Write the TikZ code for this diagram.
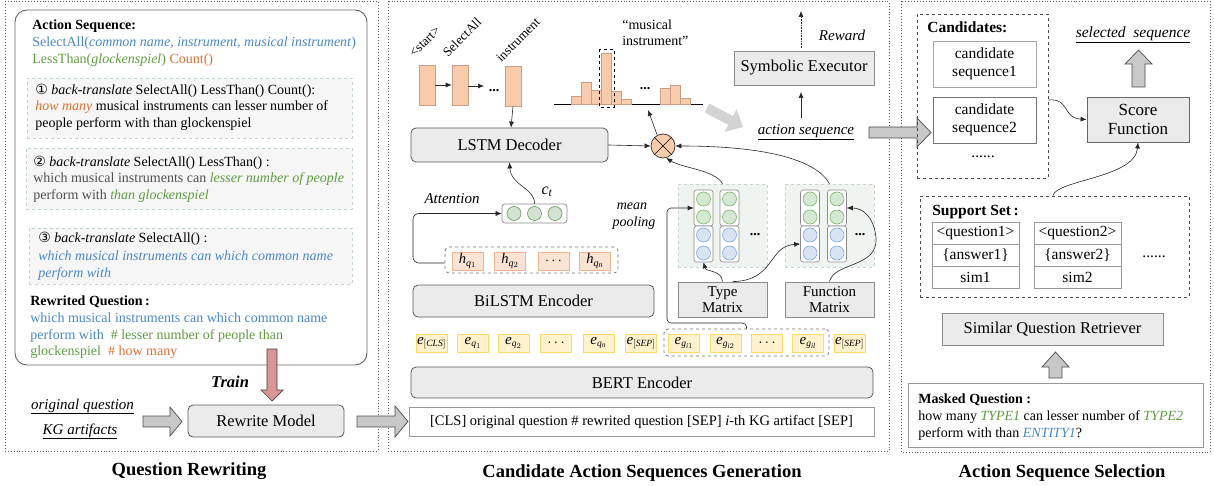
\RequirePackage{fix-cm}
\documentclass[tikz,border=0pt]{standalone}
\usepackage{fontspec}
\setmainfont{Liberation Serif}
\newfontfamily\circfont{DejaVu Sans}
\usetikzlibrary{arrows.meta}
\DeclareMathSizes{15}{15}{9.5}{7.5}
\DeclareMathSizes{14.5}{14.5}{10}{8}
\DeclareMathSizes{16}{16}{11.5}{9}
\definecolor{cblue}{HTML}{4A86C8}
\definecolor{cgreen}{HTML}{5E9C3F}
\definecolor{corange}{HTML}{E0702F}
\definecolor{boxgray}{HTML}{EBEBEB}
\definecolor{tokfill}{HTML}{F8CBAD}
\definecolor{tokedge}{HTML}{C9A087}
\definecolor{hfill}{HTML}{FBE3D4}
\definecolor{hedge}{HTML}{F2B48E}
\definecolor{efill}{HTML}{FFF2CC}
\definecolor{eedge}{HTML}{FFD966}
\definecolor{gfill}{HTML}{D5E8D4}
\definecolor{gedge}{HTML}{82B366}
\definecolor{bfill}{HTML}{DAE3F3}
\definecolor{bedge}{HTML}{7EA6E0}
\definecolor{ctfill}{HTML}{D3E2D3}
\definecolor{ctedge}{HTML}{6A9A5A}
\definecolor{matbg}{HTML}{EFF4F1}
\definecolor{matedge}{HTML}{C9D6CF}
\definecolor{dashbg}{HTML}{F6F6F6}
\definecolor{dashedge}{HTML}{C3D6CC}
\definecolor{trainfill}{HTML}{D99694}
\definecolor{blockgray}{HTML}{C8C8C8}
\definecolor{lightarrow}{HTML}{D3D3D3}
\definecolor{textgray}{HTML}{505050}
\newcommand\szL{\fontsize{14}{16}\selectfont}
\newcommand\szB{\fontsize{16.5}{19}\selectfont}
\newcommand\szT{\fontsize{18.5}{21}\selectfont}
\newcommand\szM{\fontsize{15}{17}\selectfont}
\newcommand\szC{\fontsize{15.5}{18}\selectfont}
\newcommand\szS{\fontsize{13}{15}\selectfont}
\newcommand\szH{\fontsize{14.5}{16}\selectfont}
\newcommand\szE{\fontsize{15}{16}\selectfont}
\begin{document}
\begin{tikzpicture}[x=1pt,y=-1pt,line width=0.6pt,
  panel/.style={draw=black!65,line width=0.9pt,dotted},
  gbox/.style={draw=black!65,fill=boxgray,rounded corners=5pt,line width=0.8pt,inner sep=0pt,font=\szB},
  sbox/.style={draw=black!45,fill=boxgray,line width=0.8pt,inner sep=0pt},
  wbox/.style={draw=black!35,fill=white,line width=0.8pt,inner sep=0pt},
  ln/.style={inner sep=0pt,anchor=base west,font=\szL},
  lc/.style={inner sep=0pt,anchor=base},
  arr/.style={-{Latex[length=6pt,width=5pt]},line width=0.6pt,draw=black!85},
  dbox/.style={draw=dashedge,fill=dashbg,dashed,line width=0.8pt,inner sep=0pt},
  tok/.style={draw=tokedge,fill=tokfill,line width=0.6pt,inner sep=0pt,minimum width=16pt,minimum height=40pt},
  hq/.style={draw=hedge,fill=hfill,line width=0.7pt,inner sep=0pt,minimum width=31pt,minimum height=18pt,font=\szH},
  emb/.style={draw=eedge,fill=efill,line width=0.7pt,inner sep=0pt,minimum width=31pt,minimum height=18pt,font=\szE},
  colr/.style={draw=black!45,fill=white,rounded corners=2.5pt,line width=0.6pt,minimum width=19pt,minimum height=36pt,inner sep=0pt},
  gc/.style={circle,draw=gedge,fill=gfill,line width=0.6pt,minimum size=14pt,inner sep=0pt},
  bc/.style={circle,draw=bedge,fill=bfill,line width=0.6pt,minimum size=14pt,inner sep=0pt},
  cc/.style={circle,draw=ctedge,fill=ctfill,line width=0.6pt,minimum size=14pt,inner sep=0pt},
  bar/.style={draw=tokedge,fill=tokfill,line width=0.5pt},
  blk/.style={draw=black!70,fill=blockgray,line width=0.7pt},
  cell/.style={draw=black!40,fill=white,line width=0.7pt,minimum width=87pt,minimum height=22pt,inner sep=0pt,font=\szC},
]
\useasboundingbox (0,0) rectangle (1214,486);

% ---------- panels ----------
\draw[panel] (5,1.5) rectangle (378,451);
\draw[panel] (388,1.5) rectangle (889,451);
\draw[panel] (901,1.5) rectangle (1210,452);
\node[lc,font=\szT\bfseries] (title1) at (189,475) {Question Rewriting};
\node[lc,font=\szT\bfseries] (title2) at (642,477) {Candidate Action Sequences Generation};
\node[lc,font=\szT\bfseries] (title3) at (1062,477) {Action Sequence Selection};

% ---------- left panel ----------
\node[draw=black!60,line width=0.9pt,rounded corners=12pt,minimum width=352pt,minimum height=355pt,inner sep=0pt] (lbox) at (191,187.5) {};
\node[dbox,minimum width=325pt,minimum height=60pt] (bt1) at (189.5,108) {};
\node[dbox,minimum width=326pt,minimum height=61pt] (bt2) at (189,178.5) {};
\node[dbox,minimum width=323pt,minimum height=56pt] (bt3) at (190.5,256) {};

\node[ln,font=\szL\bfseries] (asT) at (32,30) {Action Sequence:};
\node[ln,text=cblue] (as1) at (32,47) {SelectAll(\textit{common name}, \textit{instrument}, \textit{musical instrument})};
\node[ln] (as2) at (32,64) {\textcolor{cgreen}{LessThan(\textit{glockenspiel})} \textcolor{corange}{Count()}};

\node[ln] (b1a) at (35,95) {{\circfont ①} \textit{back-translate} SelectAll() LessThan() Count():};
\node[ln] (b1b) at (35,111) {\textcolor{corange}{\textit{how many}} musical instruments can lesser number of};
\node[ln] (b1c) at (35,128) {people perform with than glockenspiel};

\node[ln] (b2a) at (33,167) {{\circfont ②} \textit{back-translate} SelectAll() LessThan() :};
\node[ln,text=textgray] (b2b) at (33,183) {which musical instruments can \textcolor{cgreen}{\textit{lesser number of people}}};
\node[ln,text=textgray] (b2c) at (33,200) {perform with \textcolor{cgreen}{\textit{than glockenspiel}}};

\node[ln] (b3a) at (38,243) {{\circfont ③} \textit{back-translate} SelectAll() :};
\node[ln,text=cblue] (b3b) at (38,260) {\textit{which musical instruments can which common name}};
\node[ln,text=cblue] (b3c) at (38,277) {\textit{perform with}};

\node[ln,font=\szL\bfseries] (rqT) at (30,305) {Rewrited Question\,:};
\node[ln,text=cblue] (rq1) at (30,322) {which musical instruments can which common name};
\node[ln] (rq2) at (30,339) {\textcolor{cblue}{perform with}~ \textcolor{cgreen}{\# lesser number of people than}};
\node[ln] (rq3) at (30,355) {\textcolor{cgreen}{glockenspiel}~ \textcolor{corange}{\# how many}};

\draw[draw=black!75,fill=trainfill,line width=0.7pt] (267,349) -- (277,349) -- (277,390) -- (283,390) -- (272,401) -- (261,390) -- (267,390) -- cycle;
\node[lc,font=\szB\bfseries\itshape] (train) at (230,387) {Train};

\node[lc,font=\szM] (oq) at (82.5,409) {\underline{\textit{original question}}};
\node[lc,font=\szM] (kga) at (80,434) {\underline{\textit{KG artifacts}}};
\draw[blk] (143,416) -- (170,416) -- (170,407) -- (182,421.5) -- (170,436) -- (170,427) -- (143,427) -- cycle;
\node[gbox,minimum width=156pt,minimum height=32pt] (rw) at (266,421) {Rewrite Model};
\draw[blk] (357,416) -- (395,416) -- (395,406) -- (408,421.5) -- (395,437) -- (395,427) -- (357,427) -- cycle;

% ---------- middle panel: decoder ----------
\node[tok] (tok1) at (427,85) {};
\node[tok] (tok2) at (460,85) {};
\node[tok] (tok3) at (513,86) {};
\node[font=\szS,rotate=45,inner sep=0pt] (lab1) at (425,42) {<start>};
\node[font=\szS,rotate=45,inner sep=0pt] (lab2) at (462,37) {SelectAll};
\node[font=\szS,rotate=45,inner sep=0pt] (lab3) at (518,40) {instrument};
\draw[arr] (tok1.east) -- (tok2.west);
\coordinate (tokd) at (484,86);
\draw[arr] (tok2.east |- tokd) -- (tokd);
\node[lc,font=\szL\bfseries] (tdots) at (494,92) {...};

\node[gbox,minimum width=197pt,minimum height=34pt] (lstm) at (509.5,145) {LSTM Decoder};
\draw[arr] (tok3.south) -- ([xshift=1.5pt]lstm.north);

\draw[line width=0.9pt] (554,104) -- (703,104);
\foreach \xa/\tp in {571/96,581/82,591/90,601/53,611/91,621/99,660/88,670/85,680/98}
  \draw[bar] (\xa,104) rectangle (\xa+10,\tp);
\draw[dashed,line width=0.7pt] (599,49) rectangle (614,107);
\node[lc,font=\szL\bfseries] (hdots) at (645,90) {...};
\node[ln] (mi1) at (622,30) {“musical};
\node[ln] (mi2) at (622,46) {instrument”};

\node[circle,draw=black!80,fill=tokfill,minimum size=24pt,inner sep=0pt,line width=0.7pt] (ot) at (663,146) {};
\draw[line width=0.6pt] (ot.45) -- (ot.225) (ot.135) -- (ot.315);
\draw[arr] (lstm.east) -- (ot.west);
\coordinate (hpt) at (648,110);
\draw[arr] (ot.118) -- (hpt);

\draw[line width=10pt,draw=lightarrow,-{Triangle[length=14pt,width=25pt]}] (707,108) -- (743,127);

\node[sbox,minimum width=140pt,minimum height=34pt,font=\szB] (se) at (804,68) {Symbolic Executor};
\coordinate (rwb) at (801,48);
\coordinate (rwt) at (801,11);
\draw[arr,densely dotted] (rwb) -- (rwt);
\node[lc,font=\szM\itshape] (reward) at (842,41) {Reward};
\node[lc,font=\szM] (actseq) at (806,135) {\underline{\textit{action sequence}}};
\coordinate (asb) at (801,118);
\coordinate (ast) at (801,92);
\draw[arr] (asb) -- (ast);
\draw[blk] (869,127) -- (917,127) -- (917,118) -- (931,132.5) -- (917,147) -- (917,138) -- (869,138) -- cycle;

% ---------- attention / encoder ----------
\node[draw=black!45,fill=white,rounded corners=3pt,minimum width=65pt,minimum height=19pt,inner sep=0pt,line width=0.7pt] (ctbox) at (534.5,213.5) {};
\node[cc] (c1) at (514,213.5) {};
\node[cc] (c2) at (534.5,213.5) {};
\node[cc] (c3) at (555,213.5) {};
\node[inner sep=0pt,font=\fontsize{16}{18}\selectfont] (ctl) at (547,192) {$\mathit{c}_{\mathit{t}}$};
\draw[arr] (ctbox.north) .. controls (535,188) and (511,186) .. (lstm.south);
\node[lc,font=\szM\itshape] (attn) at (452,204) {Attention};

\node[draw=black!55,dashed,rounded corners=4pt,minimum width=173pt,minimum height=26pt,inner sep=0pt,line width=0.7pt] (hbox) at (531.5,260) {};
\node[hq] (h1) at (467.5,261) {$\mathit{h}_{\mathit{q}_{1}}$};
\node[hq] (h2) at (510,261) {$\mathit{h}_{\mathit{q}_{2}}$};
\node[hq] (h3) at (553.5,261) {$\cdots$};
\node[hq] (h4) at (595,261) {$\mathit{h}_{\mathit{q}_{\mathit{n}}}$};
\coordinate (att1) at (413,263);
\coordinate (att2) at (413,213.5);
\draw[arr,rounded corners=6pt] ([yshift=-3pt]hbox.west) -- (att1) -- (att2) -- (ctbox.west);

\node[gbox,minimum width=241pt,minimum height=32pt] (bilstm) at (533.5,301) {BiLSTM Encoder};

\node[lc,font=\szL\itshape] (mp1) at (632,210) {mean};
\node[lc,font=\szL\itshape] (mp2) at (634,227) {pooling};

% ---------- type / function matrices ----------
\node[draw=matedge,fill=matbg,dashed,minimum width=89pt,minimum height=83pt,inner sep=0pt,line width=0.6pt] (typebg) at (722.5,225.5) {};
\node[draw=matedge,fill=matbg,dashed,minimum width=89pt,minimum height=83pt,inner sep=0pt,line width=0.6pt] (funcbg) at (829.5,225.5) {};
\foreach \cx/\nm in {703.5/tA,729.5/tB,810/fA,837/fB} {
  \node[colr] (\nm1) at (\cx,208) {};
  \node[colr] (\nm2) at (\cx,244) {};
  \node[gc] (\nm-g1) at (\cx,199) {};
  \node[gc] (\nm-g2) at (\cx,217) {};
  \node[bc] (\nm-b1) at (\cx,235) {};
  \node[bc] (\nm-b2) at (\cx,253) {};
}
\node[lc,font=\szL\bfseries] (tdots2) at (755,236) {...};
\node[lc,font=\szL\bfseries] (fdots2) at (860,236) {...};

\node[sbox,minimum width=89pt,minimum height=35pt,align=center,font=\fontsize{15}{16.5}\selectfont] (tm) at (722.5,299.5) {Type\\Matrix};
\node[sbox,minimum width=89pt,minimum height=35pt,align=center,font=\fontsize{15}{16.5}\selectfont] (fm) at (829.5,299.5) {Function\\Matrix};

\draw[arr] (typebg.north) .. controls (715,170) and (682,168) .. (ot.-75);
\draw[arr] (funcbg.north) .. controls (815,158) and (760,146) .. (ot.east);
\draw[arr] (tm.north) .. controls (722,270) and (706,272) .. (tA2.south);
\draw[arr] ([xshift=10pt]tm.north) .. controls (775,281) and (768,246) .. (fA2.west);
\draw[arr] (fm.north) .. controls (834,262) and (878,268) .. (876,238) .. controls (874,216) and (862,208) .. (fB1.east);

% ---------- embeddings ----------
\node[draw=black!55,dashed,rounded corners=4pt,minimum width=165pt,minimum height=27pt,inner sep=0pt,line width=0.7pt] (egibox) at (746.5,342.5) {};
\node[emb] (e1) at (431.5,343) {$\mathit{e}_{[\mathit{CLS}]}$};
\node[emb] (e2) at (473,343) {$\mathit{e}_{\mathit{q}_{1}}$};
\node[emb] (e3) at (513.5,343) {$\mathit{e}_{\mathit{q}_{2}}$};
\node[emb] (e4) at (556,343) {$\cdots$};
\node[emb] (e5) at (598.5,343) {$\mathit{e}_{\mathit{q}_{\mathit{n}}}$};
\node[emb] (e6) at (641,343) {$\mathit{e}_{[\mathit{SEP}]}$};
\node[emb] (e7) at (684,343) {$\mathit{e}_{\mathit{g}_{\mathit{i}1}}$};
\node[emb] (e8) at (725.5,343) {$\mathit{e}_{\mathit{g}_{\mathit{i}2}}$};
\node[emb] (e9) at (767,343) {$\cdots$};
\node[emb] (e10) at (808,343) {$\mathit{e}_{\mathit{g}_{\mathit{il}}}$};
\node[emb] (e11) at (849.5,343) {$\mathit{e}_{[\mathit{SEP}]}$};
\coordinate (mpa) at (746.5,323);
\coordinate (mpb) at (667,323);
\coordinate (mpc) at (667,208);
\draw[arr,rounded corners=4pt] (egibox.north) -- (mpa) -- (mpb) -- (mpc) -- (tA1.west);

\node[gbox,minimum width=462pt,minimum height=31pt] (bert) at (642,382.5) {BERT Encoder};
\node[wbox,draw=black!40,minimum width=465pt,minimum height=29pt,font=\fontsize{14.5}{16}\selectfont] (inp) at (641.5,421.5) {[CLS] original question \# rewrited question [SEP] \textit{i}-th KG artifact [SEP]};

% ---------- right panel ----------
\node[draw=black!70,dashed,minimum width=131pt,minimum height=164pt,inner sep=0pt,line width=0.8pt] (cands) at (982.5,96) {};
\node[ln,font=\szC\bfseries] (candT) at (927,33) {Candidates:};
\node[wbox,minimum width=103pt,minimum height=46pt,align=center,font=\szC] (cand1) at (984.5,64) {candidate\\sequence1};
\node[wbox,draw=black!55,minimum width=103pt,minimum height=46pt,align=center,font=\szC] (cand2) at (984.5,120) {candidate\\sequence2};
\node[lc,font=\szC] (cdots) at (983,158) {......};

\node[sbox,draw=black!60,minimum width=102pt,minimum height=45pt,align=center,font=\fontsize{17}{18.5}\selectfont] (score) at (1138,119.5) {Score\\Function};
\node[lc,font=\szC] (selseq) at (1133,38) {\underline{\textit{selected~ sequence}}};
\draw[blk] (1132,87) -- (1132,64) -- (1125,64) -- (1138.5,50) -- (1152,64) -- (1145,64) -- (1145,87) -- cycle;
\draw[arr] ([yshift=-4pt]cands.east) .. controls (1070,98) and (1062,118) .. (score.west);

\node[draw=black!70,dashed,minimum width=269pt,minimum height=101pt,inner sep=0pt,line width=0.8pt] (sup) at (1054.5,246.5) {};
\node[ln,font=\szC\bfseries] (supT) at (932,215) {Support Set\,:};
\draw[arr] ([xshift=-1.5pt]sup.north) .. controls (1056,180) and (1135,178) .. (score.south);
\node[cell] (q1) at (975.5,233) {<question1>};
\node[cell] (a1) at (975.5,255) {\{answer1\}};
\node[cell] (s1) at (975.5,277) {sim1};
\node[cell] (q2) at (1077.5,233) {<question2>};
\node[cell] (a2) at (1077.5,255) {\{answer2\}};
\node[cell] (s2) at (1077.5,277) {sim2};
\node[lc,font=\szC] (sdots) at (1154,258) {......};

\node[sbox,minimum width=221pt,minimum height=32pt,font=\szB] (retr) at (1052.5,329) {Similar Question Retriever};
\draw[blk] (1049,378) -- (1049,367) -- (1042,367) -- (1055.5,352) -- (1069,367) -- (1062,367) -- (1062,378) -- cycle;

\node[wbox,draw=black!40,minimum width=295pt,minimum height=64pt] (mq) at (1055.5,415) {};
\node[ln,font=\szL\bfseries] (mqT) at (918,403) {Masked Question :};
\node[ln] (mq1) at (918,420) {how many \textcolor{cgreen}{\textit{TYPE1}} can lesser number of \textcolor{cgreen}{\textit{TYPE2}}};
\node[ln] (mq2) at (918,437) {perform with than \textcolor{cblue}{\textit{ENTITY1}}?};
\end{tikzpicture}
\end{document}
